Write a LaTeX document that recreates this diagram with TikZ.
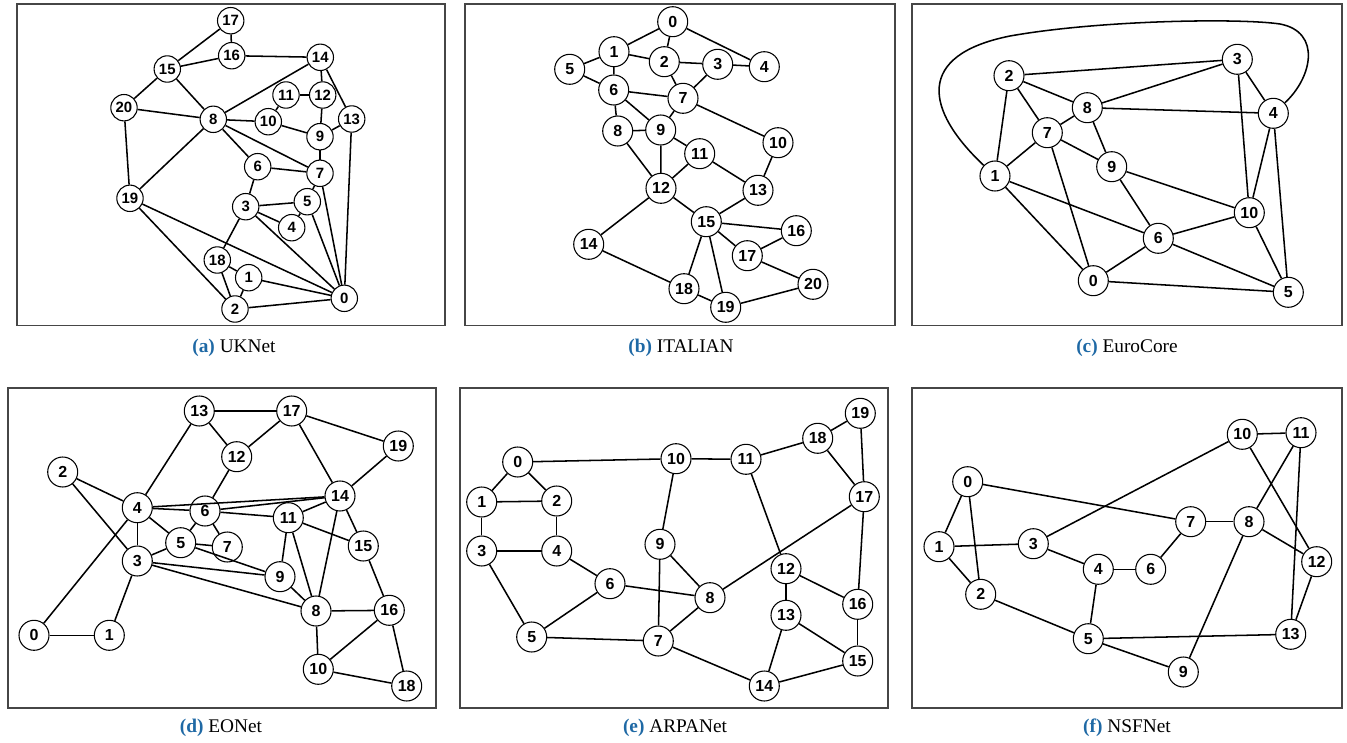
\documentclass[tikz,border=0pt]{standalone}
\usepackage{fontspec}
\setmainfont{Liberation Serif}
\newfontfamily\nodefont{Liberation Sans}
\definecolor{capblue}{RGB}{31,105,165}
\definecolor{framegray}{RGB}{70,70,70}
\tikzset{
  nd/.style={circle, draw=black, fill=white, line width=0.8pt, inner sep=0pt,
    minimum size=22.5pt, font=\nodefont\fontsize{12}{13}\selectfont\bfseries},
  ndsmall/.style={nd, minimum size=19.8pt, font=\nodefont\fontsize{11.2}{13}\selectfont\bfseries},
  edge/.style={line width=1.15pt, black},
  panel/.style={draw=framegray, line width=1pt},
  caption/.style={font=\fontsize{14.5}{16}\selectfont, inner sep=0pt},
}
\newcommand{\subcap}[2]{{\color{capblue}\textbf{(#1)}}\ #2}
\begin{document}
\begin{tikzpicture}[x=0.75pt,y=-0.75pt]
\useasboundingbox (0,0) rectangle (1347,743);

% ---------- frames ----------
\draw[panel] (17,4) rectangle (445,325.5);
\draw[panel] (465,4) rectangle (895,325.5);
\draw[panel] (912,4) rectangle (1342,325.5);
\draw[panel] (8,388) rectangle (436,708);
\draw[panel] (460,388) rectangle (888,708);
\draw[panel] (912,388) rectangle (1342,708);

% ---------- (a) UKNet ----------
\foreach \n/\x/\y in {17/230.7/20.7, 16/231.7/55.7, 15/167.3/69, 14/320.3/57.3,
  11/286/95, 12/322.7/95, 20/124/107.7, 8/213.3/119.3, 10/268.3/121.7,
  13/351.7/119, 9/320/136.7, 6/257.7/166.7, 7/320/173.3, 19/130/198.3,
  3/245.7/206.7, 5/307.3/201.7, 4/291.7/227.7, 18/217.3/260, 1/248.7/277.7,
  0/344.3/298.3, 2/235/309}
  \node[ndsmall] (a\n) at (\x,\y) {\n};
\foreach \u/\v in {17/16, 17/15, 15/16, 16/14, 15/20, 15/8, 20/8, 20/19, 8/19,
  8/14, 8/10, 8/6, 8/7, 10/11, 11/12, 12/14, 12/9, 14/13, 10/9, 9/13, 9/7,
  13/0, 6/7, 6/3, 7/5, 7/0, 3/5, 3/4, 4/5, 5/0, 3/0, 3/18, 19/0, 19/2,
  18/1, 18/2, 1/2, 1/0, 2/0}
  \draw[edge] (a\u) -- (a\v);
\node[caption] (capa) at (234,348) {\subcap{a}{UKNet}};

% ---------- (b) ITALIAN ----------
\foreach \n/\x/\y in {0/672.7/21.7, 1/614/51.7, 2/664.3/61.7, 3/717.7/64.3,
  4/764.3/66.7, 5/569.7/69.3, 6/613.7/90, 7/683/98.3, 8/617.7/131,
  9/660.7/130, 10/778/142.7, 11/699.7/153.7, 12/661/188.3, 13/758/190.3,
  15/706.3/221.7, 16/796.3/230.7, 14/588.7/244.3, 17/747.3/255.7,
  20/813/284.3, 18/684/288.7, 19/725.7/307.3}
  \node[nd] (b\n) at (\x,\y) {\n};
\foreach \u/\v in {0/1, 0/2, 0/4, 1/5, 1/2, 1/6, 5/6, 2/3, 2/7, 3/4, 3/7,
  6/7, 6/8, 6/9, 7/9, 7/10, 8/9, 8/12, 9/12, 9/11, 11/12, 11/13, 10/13,
  12/15, 12/14, 13/15, 15/16, 15/17, 15/18, 15/19, 16/17, 17/20, 14/18,
  18/19, 19/20}
  \draw[edge] (b\u) -- (b\v);
\node[caption] (capb) at (681,348) {\subcap{b}{ITALIAN}};

% ---------- (c) EuroCore ----------
\foreach \n/\x/\y in {3/1237.3/59.3, 2/1009/75.7, 8/1087.3/107.7,
  4/1273.3/113.3, 7/1047.3/132.7, 9/1111.7/166.7, 1/995/176,
  10/1249.3/212.7, 6/1158.3/238.3, 0/1093.3/280.7, 5/1288.3/292.3}
  \node[nd] (c\n) at (\x,\y) {\n};
\foreach \u/\v in {2/3, 2/8, 2/7, 2/1, 3/8, 3/4, 3/10, 8/4, 8/7, 8/9, 7/1,
  7/9, 7/0, 1/6, 1/0, 9/10, 9/6, 4/10, 4/5, 10/6, 10/5, 6/0, 6/5, 0/5}
  \draw[edge] (c\u) -- (c\v);
\draw[edge] (c1) .. controls (925,110) and (915,55) .. (1010,36)
  .. controls (1100,20) and (1240,18) .. (1280,24)
  .. controls (1322,32) and (1312,78) .. (c4);
\node[caption] (capc) at (1127,348) {\subcap{c}{EuroCore}};

% ---------- (d) EONet ----------
\foreach \n/\x/\y in {13/199.3/411, 17/291.7/411, 19/398.3/446,
  12/236.7/456.7, 2/62.7/472, 14/340/496, 4/137.3/507.7, 6/205/511,
  11/288.3/517.7, 5/180.7/542.7, 7/227.3/547, 15/363.3/546, 3/137.3/561,
  9/280/576.7, 8/316/611, 16/389.3/610.3, 0/34/635.3, 1/109.3/635.3,
  10/318.3/669.3, 18/406.7/686}
  \node[nd] (d\n) at (\x,\y) {\n};
\foreach \u/\v in {13/17, 13/12, 13/4, 17/12, 17/19, 17/14, 19/14, 12/6,
  2/4, 2/3, 4/14, 4/6, 4/5, 4/3, 4/0, 6/14, 6/11, 6/5, 6/7, 5/7, 5/3,
  5/9, 3/9, 3/8, 3/1, 0/1, 14/11, 14/15, 14/8, 11/15, 11/9, 11/8, 9/8,
  15/16, 8/16, 8/10, 16/10, 16/18, 10/18}
  \draw[edge] (d\u) -- (d\v);
\node[caption] (capd) at (221,728) {\subcap{d}{EONet}};

% ---------- (e) ARPANet ----------
\foreach \n/\x/\y in {19/860.3/413.3, 18/817.7/438.3, 0/517.7/462,
  10/676/458.7, 11/746/459.3, 17/864.3/496.7, 1/481.7/502, 2/556.7/501,
  9/660/544.3, 3/481.7/551, 4/556.7/551, 12/786/568.7, 6/610/583.7,
  8/710/597.7, 16/857.7/604.3, 13/786/615.3, 5/531.7/637, 7/658.3/641,
  15/857.7/661, 14/764.3/686}
  \node[nd] (e\n) at (\x,\y) {\n};
\foreach \u/\v in {0/10, 0/1, 0/2, 1/2, 1/3, 2/4, 3/4, 3/5, 4/6, 6/5, 6/8,
  5/7, 10/11, 10/9, 9/8, 9/7, 8/7, 8/17, 11/18, 11/12, 18/19, 18/17,
  19/17, 17/16, 12/16, 12/13, 13/14, 13/15, 16/15, 15/14, 7/14}
  \draw[edge] (e\u) -- (e\v);
\node[caption] (cape) at (675,728) {\subcap{e}{ARPANet}};

% ---------- (f) NSFNet ----------
\foreach \n/\x/\y in {10/1242.3/434.3, 11/1301/432.7, 0/967.7/481.7,
  7/1190.7/521.7, 8/1249/521.7, 1/939/546.7, 3/1033.3/543.7,
  12/1316.7/561.7, 4/1098.3/569.3, 6/1150.7/569.3, 2/980.7/594.3,
  5/1088.3/638.7, 13/1290.7/634.3, 9/1183.3/672}
  \node[nd] (f\n) at (\x,\y) {\n};
\foreach \u/\v in {10/11, 10/3, 10/12, 11/8, 11/13, 0/7, 0/1, 0/2, 1/2,
  1/3, 3/4, 4/6, 4/5, 6/7, 7/8, 8/12, 8/9, 12/13, 2/5, 5/13, 5/9}
  \draw[edge] (f\u) -- (f\v);
\node[caption] (capf) at (1127,728) {\subcap{f}{NSFNet}};
\end{tikzpicture}
\end{document}
